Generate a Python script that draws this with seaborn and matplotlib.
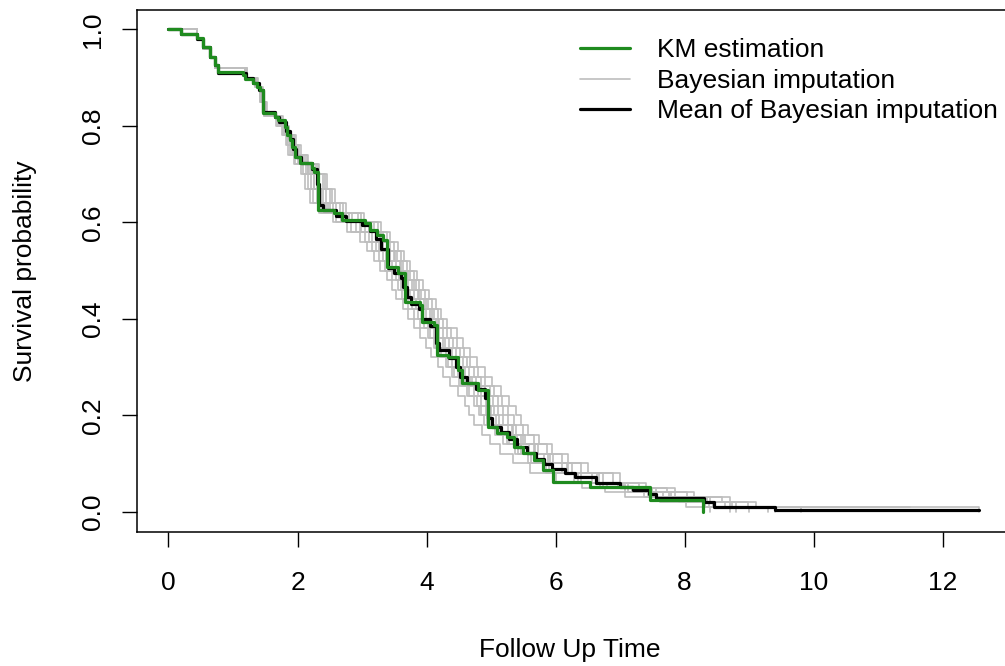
import seaborn as sns
import pandas as pd
import numpy as np
import matplotlib.pyplot as plt
from matplotlib.lines import Line2D

# KM estimation (green): jump times and survival after each jump
km_time = [0.00, 0.20, 0.44, 0.54, 0.64, 0.72, 0.77, 1.16, 1.19, 1.31,
           1.37, 1.42, 1.47, 1.65, 1.70, 1.81, 1.83, 1.88, 1.91, 1.96,
           2.04, 2.22, 2.25, 2.32, 2.56, 2.69, 3.05, 3.12, 3.23, 3.33,
           3.39, 3.56, 3.67, 3.90, 3.93, 4.11, 4.16, 4.34, 4.49, 4.55,
           4.80, 4.95, 5.09, 5.24, 5.35, 5.50, 5.66, 5.80, 5.96, 6.53,
           7.47, 8.29]
km_surv = [1.000, 0.990, 0.981, 0.964, 0.943, 0.926, 0.912, 0.905, 0.898, 0.888,
           0.881, 0.874, 0.826, 0.819, 0.812, 0.798, 0.781, 0.771, 0.757, 0.736,
           0.722, 0.712, 0.705, 0.625, 0.619, 0.605, 0.598, 0.584, 0.574, 0.563,
           0.508, 0.494, 0.435, 0.428, 0.394, 0.387, 0.325, 0.321, 0.294, 0.266,
           0.252, 0.176, 0.163, 0.155, 0.135, 0.121, 0.107, 0.086, 0.062, 0.052,
           0.024, 0.000]

# mean of the Bayesian imputations (black)
mean_time = [0.00, 0.20, 0.44, 0.54, 0.64, 0.72, 0.77, 1.20, 1.31, 1.40,
             1.47, 1.65, 1.72, 1.82, 1.88, 1.93, 1.97, 2.06, 2.22, 2.30,
             2.33, 2.40, 2.60, 2.75, 3.00, 3.12, 3.22, 3.30, 3.40, 3.50,
             3.60, 3.64, 3.70, 3.76, 3.88, 3.93, 4.05, 4.14, 4.20, 4.35,
             4.45, 4.52, 4.62, 4.76, 4.90, 4.96, 5.02, 5.15, 5.28, 5.40,
             5.55, 5.70, 5.82, 5.95, 6.15, 6.30, 6.62, 7.00, 7.20, 7.45,
             7.55, 8.30, 8.45, 9.40, 12.57]
mean_surv = [1.000, 0.990, 0.980, 0.963, 0.943, 0.925, 0.910, 0.900, 0.888, 0.875,
             0.828, 0.818, 0.808, 0.790, 0.772, 0.752, 0.735, 0.722, 0.710, 0.680,
             0.635, 0.625, 0.612, 0.602, 0.595, 0.582, 0.565, 0.545, 0.505, 0.495,
             0.485, 0.465, 0.445, 0.430, 0.420, 0.400, 0.385, 0.350, 0.335, 0.318,
             0.300, 0.280, 0.266, 0.255, 0.235, 0.195, 0.175, 0.165, 0.150, 0.135,
             0.122, 0.110, 0.098, 0.088, 0.080, 0.072, 0.060, 0.052, 0.045, 0.036,
             0.028, 0.020, 0.010, 0.004, 0.004]

# imputed curves (grey): survival levels and the time each curve reaches them
grey_levels = [1.00, 0.98, 0.96, 0.94, 0.92, 0.90, 0.88, 0.85, 0.82, 0.80,
               0.78, 0.76, 0.74, 0.72, 0.70, 0.67, 0.64, 0.62, 0.60, 0.58,
               0.56, 0.54, 0.52, 0.50, 0.48, 0.46, 0.44, 0.42, 0.40, 0.38,
               0.36, 0.34, 0.32, 0.30, 0.28, 0.26, 0.24, 0.22, 0.20, 0.18,
               0.16, 0.14, 0.12, 0.10, 0.08, 0.06, 0.05, 0.04, 0.03, 0.02,
               0.01]
g1 = [0.00, 0.44, 0.54, 0.64, 0.72, 1.18, 1.34, 1.42, 1.48, 1.67,
      1.76, 1.82, 1.86, 1.94, 2.05, 2.12, 2.20, 2.33, 2.55, 2.77,
      2.97, 3.08, 3.18, 3.28, 3.38, 3.47, 3.53, 3.63, 3.72, 3.81,
      3.90, 3.99, 4.07, 4.17, 4.25, 4.36, 4.48, 4.60, 4.66, 4.74,
      4.86, 4.98, 5.14, 5.34, 5.60, 6.01, 6.41, 6.77, 7.07, 7.62,
      8.02]
g2 = [0.00, 0.44, 0.54, 0.64, 0.72, 1.19, 1.35, 1.43, 1.49, 1.69,
      1.77, 1.84, 1.88, 1.96, 2.08, 2.16, 2.24, 2.37, 2.60, 2.83,
      3.05, 3.16, 3.26, 3.36, 3.46, 3.55, 3.62, 3.72, 3.81, 3.90,
      4.02, 4.11, 4.20, 4.30, 4.39, 4.50, 4.62, 4.74, 4.81, 4.89,
      5.06, 5.19, 5.37, 5.58, 5.85, 6.29, 6.69, 7.07, 7.37, 7.92,
      8.32]
g3 = [0.00, 0.44, 0.54, 0.64, 0.72, 1.19, 1.35, 1.43, 1.49, 1.70,
      1.80, 1.88, 1.93, 2.02, 2.16, 2.25, 2.34, 2.48, 2.73, 2.97,
      3.11, 3.22, 3.32, 3.42, 3.52, 3.61, 3.68, 3.78, 3.87, 3.96,
      4.11, 4.20, 4.30, 4.40, 4.49, 4.60, 4.73, 4.85, 4.92, 5.00,
      5.10, 5.24, 5.41, 5.62, 5.90, 6.34, 6.74, 7.13, 7.43, 7.98,
      8.38]
g4 = [0.00, 0.44, 0.54, 0.64, 0.72, 1.20, 1.36, 1.44, 1.50, 1.73,
      1.81, 1.88, 1.94, 2.04, 2.17, 2.26, 2.36, 2.51, 2.75, 2.99,
      3.22, 3.33, 3.43, 3.53, 3.63, 3.72, 3.80, 3.90, 3.99, 4.08,
      4.20, 4.29, 4.39, 4.49, 4.59, 4.70, 4.84, 4.96, 5.04, 5.12,
      5.26, 5.40, 5.59, 5.82, 6.10, 6.56, 6.96, 7.37, 7.67, 8.22,
      8.62]
g5 = [0.00, 0.44, 0.54, 0.64, 0.72, 1.20, 1.36, 1.44, 1.50, 1.71,
      1.83, 1.92, 1.98, 2.08, 2.23, 2.34, 2.44, 2.59, 2.85, 3.11,
      3.28, 3.39, 3.49, 3.59, 3.69, 3.78, 3.86, 3.96, 4.05, 4.14,
      4.26, 4.35, 4.46, 4.56, 4.66, 4.77, 4.91, 5.03, 5.11, 5.19,
      5.32, 5.47, 5.66, 5.89, 6.18, 6.64, 7.04, 7.46, 7.76, 8.31,
      8.71]
g6 = [0.00, 0.44, 0.54, 0.64, 0.72, 1.21, 1.37, 1.45, 1.51, 1.75,
      1.85, 1.94, 2.01, 2.12, 2.28, 2.39, 2.50, 2.66, 2.93, 3.19,
      3.33, 3.44, 3.54, 3.64, 3.74, 3.83, 3.92, 4.02, 4.11, 4.20,
      4.32, 4.41, 4.52, 4.62, 4.73, 4.84, 4.98, 5.10, 5.19, 5.27,
      5.38, 5.53, 5.73, 5.96, 6.25, 6.73, 7.13, 7.55, 7.85, 8.40,
      8.80]
g7 = [0.00, 0.44, 0.54, 0.64, 0.72, 1.21, 1.37, 1.45, 1.51, 1.74,
      1.86, 1.96, 2.03, 2.14, 2.31, 2.43, 2.54, 2.70, 2.98, 3.25,
      3.39, 3.50, 3.60, 3.70, 3.80, 3.89, 3.98, 4.08, 4.17, 4.26,
      4.38, 4.47, 4.58, 4.68, 4.80, 4.91, 5.05, 5.17, 5.27, 5.35,
      5.50, 5.66, 5.86, 6.10, 6.40, 6.89, 7.29, 7.73, 8.03, 8.58,
      8.98]
g8 = [0.00, 0.44, 0.54, 0.64, 0.72, 1.22, 1.38, 1.46, 1.52, 1.77,
      1.87, 1.97, 2.05, 2.17, 2.34, 2.46, 2.58, 2.75, 3.03, 3.30,
      3.44, 3.55, 3.65, 3.75, 3.85, 3.94, 4.04, 4.14, 4.23, 4.32,
      4.47, 4.56, 4.68, 4.78, 4.90, 5.01, 5.16, 5.28, 5.38, 5.46,
      5.58, 5.74, 5.95, 6.20, 6.50, 7.00, 7.40, 7.85, 8.15, 8.70,
      9.10]
g9 = [0.00, 0.44, 0.54, 0.64, 0.72, 1.20, 1.36, 1.44, 1.50, 1.72,
      1.79, 1.86, 1.91, 2.00, 2.13, 2.21, 2.30, 2.44, 2.68, 2.91,
      3.16, 3.27, 3.37, 3.47, 3.57, 3.66, 3.74, 3.84, 3.93, 4.02,
      4.05, 4.14, 4.23, 4.33, 4.42, 4.53, 4.66, 4.78, 4.85, 4.93,
      5.14, 5.28, 5.46, 5.67, 5.95, 6.40, 6.80, 7.19, 7.49, 8.04,
      8.44]
g10 = [0.00, 0.44, 0.54, 0.64, 0.72, 1.18, 1.34, 1.42, 1.48, 1.68,
       1.82, 1.90, 1.96, 2.06, 2.20, 2.30, 2.40, 2.55, 2.80, 3.05,
       3.30, 3.41, 3.51, 3.61, 3.71, 3.80, 3.89, 3.99, 4.08, 4.17,
       4.17, 4.26, 4.36, 4.46, 4.56, 4.67, 4.80, 4.92, 5.00, 5.08,
       5.34, 5.49, 5.68, 5.91, 6.20, 6.67, 7.07, 7.49, 7.79, 8.34,
       8.74]
# last follow-up time of each imputed curve and its survival there
grey_end = [8.40, 11.50, 8.80, 9.50, 9.00, 12.57, 9.30, 9.40, 8.70, 9.80]
grey_final = [0.00, 0.01, 0.00, 0.01, 0.00, 0.00, 0.00, 0.00, 0.00, 0.00]

labels = ["KM estimation", "Bayesian imputation", "Mean of Bayesian imputation"]
c_green = "#1f8b1f"
c_grey = "#bebebe"

sns.set_style("ticks")
plt.rcParams["font.family"] = ["Liberation Sans", "DejaVu Sans"]
plt.rcParams["text.color"] = "black"
plt.rcParams["axes.labelcolor"] = "black"

# long table of the grey curves
parts = []
for k, tt in enumerate([g1, g2, g3, g4, g5, g6, g7, g8, g9, g10]):
    parts.append(pd.DataFrame({"time": tt + [grey_end[k]],
                               "surv": grey_levels + [grey_final[k]],
                               "curve": k}))
grey_df = pd.concat(parts, ignore_index=True)
km_df = pd.DataFrame({"time": km_time, "surv": km_surv})
mean_df = pd.DataFrame({"time": mean_time, "surv": mean_surv})

fig = plt.figure(figsize=(10.05, 6.66), dpi=100)
ax = fig.add_axes([137 / 1005, 134 / 666, 876 / 1005, 522 / 666])

sns.lineplot(data=grey_df, x="time", y="surv", units="curve", estimator=None,
             sort=False, color=c_grey, lw=1.2, drawstyle="steps-post",
             legend=False, ax=ax)
sns.lineplot(data=mean_df, x="time", y="surv", estimator=None, sort=False,
             color="black", lw=2.3, drawstyle="steps-post", ax=ax)
sns.lineplot(data=km_df, x="time", y="surv", estimator=None, sort=False,
             color=c_green, lw=2.3, drawstyle="steps-post", ax=ax)

ax.set_xlim(-0.488, 13.09)
ax.set_ylim(-0.042, 1.040)
ax.set_xticks([0, 2, 4, 6, 8, 10, 12])
ax.set_yticks([0.0, 0.2, 0.4, 0.6, 0.8, 1.0])
ax.set_yticklabels(["0.0", "0.2", "0.4", "0.6", "0.8", "1.0"])
ax.tick_params(axis="both", direction="out", length=11, width=1.0,
               labelsize=19, colors="black")
ax.tick_params(axis="x", pad=17)
ax.tick_params(axis="y", pad=12)
for lab in ax.get_yticklabels():
    lab.set_rotation(90)
    lab.set_va("center")

for sp in ax.spines.values():
    sp.set_visible(True)
    sp.set_color("black")
    sp.set_linewidth(1.1)

ax.set_xlabel("Follow Up Time", fontsize=19)
ax.set_ylabel("Survival probability", fontsize=19)
ax.xaxis.set_label_coords(0.494, -0.226)
ax.xaxis.label.set_va("center")
ax.yaxis.set_label_coords(-0.128, 0.5)
ax.yaxis.label.set_va("center")

handles = [Line2D([], [], color=c_green, lw=2.3),
           Line2D([], [], color=c_grey, lw=1.2),
           Line2D([], [], color="black", lw=2.3)]
ax.legend(handles, labels, loc="upper left", bbox_to_anchor=(0.5057, 0.946),
          frameon=False, fontsize=19, handlelength=1.9, handletextpad=1.0,
          labelspacing=0.25, borderaxespad=0, borderpad=0)

fig.savefig("out.png", dpi=100)
